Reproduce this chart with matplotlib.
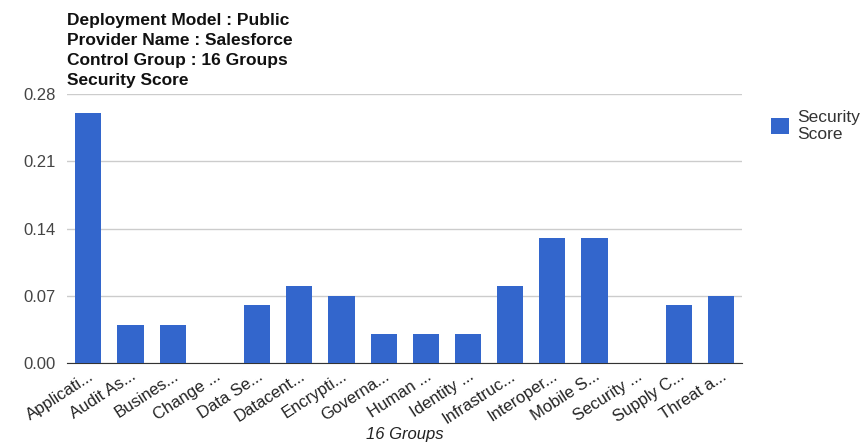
import matplotlib.pyplot as plt
import numpy as np

plt.rcParams['font.family'] = ['Liberation Sans', 'DejaVu Sans']

groups = ['Applicati...', 'Audit As...', 'Busines...', 'Change ...', 'Data Se...',
          'Datacent...', 'Encrypti...', 'Governa...', 'Human ...', 'Identity ...',
          'Infrastruc...', 'Interoper...', 'Mobile S...', 'Security ...',
          'Supply C...', 'Threat a...']
scores = [0.26, 0.04, 0.04, 0.0, 0.06, 0.08, 0.07, 0.03, 0.03, 0.03,
          0.08, 0.13, 0.13, 0.0, 0.06, 0.07]
yticks = [0.0, 0.07, 0.14, 0.21, 0.28]
title_lines = ['Deployment Model : Public', 'Provider Name : Salesforce',
               'Control Group : 16 Groups', 'Security Score']

fig = plt.figure(figsize=(8.62, 4.46), dpi=100)
ax = fig.add_axes([0.078, 0.186, 0.783, 0.603])

x = np.arange(len(groups))
ax.bar(x, scores, width=0.62, color='#3366cc', label='Security\nScore', zorder=3)

ax.set_xlim(-0.5, len(groups) - 0.5)
ax.set_ylim(0, 0.28)
ax.set_yticks(yticks)
ax.set_yticklabels(['%.2f' % v for v in yticks])
ax.grid(axis='y', color='#cccccc', linewidth=1, zorder=0)
for s in ['top', 'right', 'left']:
    ax.spines[s].set_visible(False)
ax.spines['bottom'].set_color('#333333')
ax.tick_params(axis='y', length=0, pad=8, labelsize=12, labelcolor='#444444')
ax.tick_params(axis='x', length=0, pad=4, labelsize=12, labelcolor='#222222')
ax.set_xticks(x)
ax.set_xticklabels(groups, rotation=33, ha='right', rotation_mode='anchor')
ax.set_xlabel('16 Groups', style='italic', fontsize=12, color='#222222', labelpad=0)

fig.text(0.078, 0.97, '\n'.join(title_lines), fontsize=12.5, fontweight='bold',
         va='top', ha='left', linespacing=1.42, color='#111111')

ax.legend(loc='upper left', bbox_to_anchor=(1.02, 1.0), frameon=False,
          fontsize=12.5, handlelength=1.0, handleheight=1.0, handletextpad=0.5,
          labelcolor='#333333')

fig.savefig('out.png', dpi=100)
